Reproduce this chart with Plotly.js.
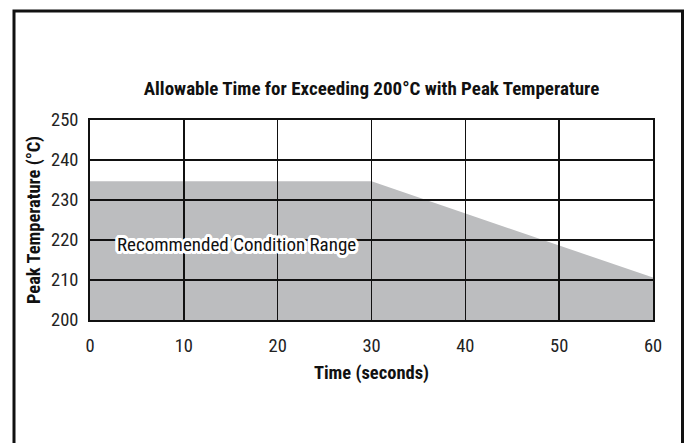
<!DOCTYPE html>
<html>
<head>
<meta charset="utf-8">
<script src="https://cdn.plot.ly/plotly-3.0.1.min.js"></script>
<style>
html,body{margin:0;padding:0;background:#fff;}
#chart{width:685px;height:443px;}
</style>
</head>
<body>
<div id="chart"></div>
<script>
// Data
const timeSec = [0, 30, 60];
const peakTemp = [234.7, 234.7, 210.6];
const xTicks = [0, 10, 20, 30, 40, 50, 60];
const yTicks = [200, 210, 220, 230, 240, 250];
const regionLabel = 'Recommended Condition Range';
const labelPos = {x: 15.6, y: 218.8};

const FONT = '"Liberation Sans Narrow", "Roboto Condensed", Roboto, sans-serif';
const yBase = 200;

// Build shaded region path in data coordinates
let path = 'M ' + timeSec[0] + ',' + yBase;
for (let i = 0; i < timeSec.length; i++) path += ' L ' + timeSec[i] + ',' + peakTemp[i];
path += ' L ' + timeSec[timeSec.length - 1] + ',' + yBase + ' Z';

const trace = {
  x: timeSec, y: peakTemp, type: 'scatter', mode: 'lines',
  line: {color: 'rgba(0,0,0,0)', width: 0}, hoverinfo: 'x+y', showlegend: false
};

const axisCommon = {
  showgrid: true, gridcolor: '#111', gridwidth: 1.6,
  showline: true, linecolor: '#111', linewidth: 1.8, mirror: true,
  zeroline: false, ticks: '', tickfont: {family: FONT, size: 18.5, color: '#222'}
};

// white halo around the label
const halo = [];
for (let a = 0; a < 16; a++) {
  const t = a * Math.PI / 8;
  halo.push((3 * Math.cos(t)).toFixed(2) + 'px ' + (3 * Math.sin(t)).toFixed(2) + 'px 0 #fff');
}
halo.push('1.5px 0 0 #fff', '-1.5px 0 0 #fff', '0 1.5px 0 #fff', '0 -1.5px 0 #fff');

const layout = {
  width: 685, height: 443,
  margin: {l: 90, r: 32, t: 120, b: 123},
  paper_bgcolor: '#fff', plot_bgcolor: '#fff',
  title: {
    text: 'Allowable Time for Exceeding 200°C with Peak Temperature',
    font: {family: FONT, size: 19, color: '#111', weight: 'bold'},
    x: 0.5, xref: 'paper', y: 1 - 88 / 443, yanchor: 'middle'
  },
  xaxis: Object.assign({}, axisCommon, {
    range: [0, 60], tickvals: xTicks, ticklabelstandoff: 8,
    title: {text: 'Time (seconds)', font: {family: FONT, size: 18.5, color: '#111', weight: 'bold'}, standoff: 10}
  }),
  yaxis: Object.assign({}, axisCommon, {
    range: [200, 250], tickvals: yTicks, ticklabelstandoff: 6,
    title: {text: 'Peak Temperature (°C)', font: {family: FONT, size: 18.5, color: '#111', weight: 'bold'}, standoff: 6}
  }),
  shapes: [
    {type: 'path', xref: 'x', yref: 'y', path: path, fillcolor: '#bcbdbf', line: {width: 0}, layer: 'below'},
    {type: 'rect', xref: 'paper', yref: 'paper',
     x0: (14 - 90) / 563, x1: (682.5 - 90) / 563, y0: (320 - 460) / 200, y1: (320 - 11) / 200,
     line: {color: '#111', width: 3}, fillcolor: 'rgba(0,0,0,0)', layer: 'above'}
  ],
  annotations: [{
    x: labelPos.x, y: labelPos.y, xref: 'x', yref: 'y', text: regionLabel, showarrow: false,
    font: {family: FONT, size: 19, color: '#111', shadow: halo.join(', ')}
  }]
};

Plotly.newPlot('chart', [trace], layout, {displayModeBar: false, staticPlot: true});
</script>
</body>
</html>
